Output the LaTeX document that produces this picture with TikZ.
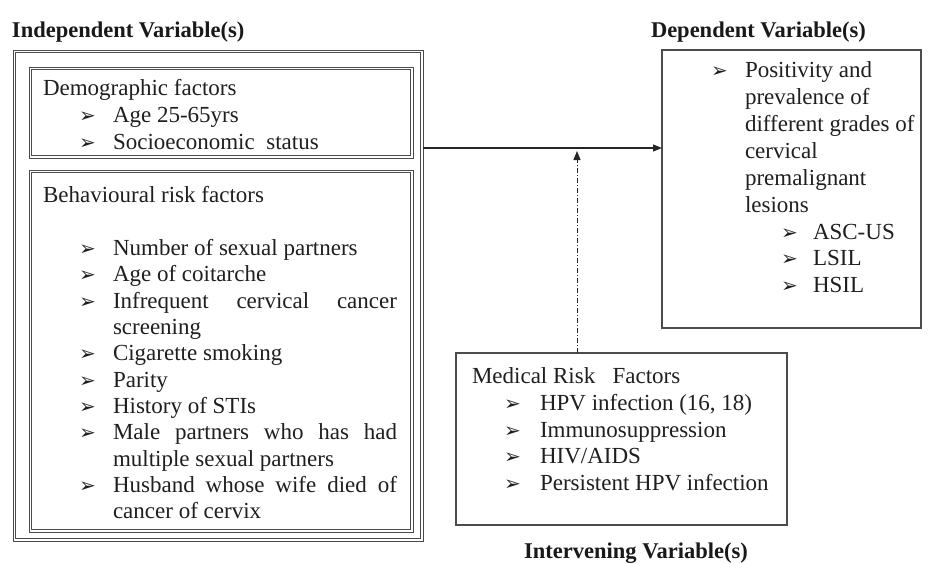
\documentclass[tikz,border=0pt]{standalone}
\usepackage{fontspec}
\setmainfont{Liberation Serif}
\newfontfamily\symf{DejaVu Sans}
\usetikzlibrary{arrows.meta,calc}
\begin{document}
\begin{tikzpicture}[x=1pt,y=-1pt,
 txt/.style={anchor=base west,inner sep=0pt,outer sep=0pt,font=\fontsize{23}{26}\selectfont,text=black!88},
 hdr/.style={anchor=base west,inner sep=0pt,outer sep=0pt,font=\fontsize{22.5}{26}\selectfont\bfseries,text=black!90},
 bul/.style={anchor=base west,inner sep=0pt,outer sep=0pt,font=\symf\bfseries\fontsize{20}{22}\selectfont,text=black!88},
 dbox/.style={draw=black!70,line width=1pt,anchor=north west,inner sep=0pt,outer sep=0pt},
 inline/.style={draw=black!70,line width=1pt},
 sbox/.style={draw=black!70,line width=1.6pt,anchor=north west,inner sep=0pt,outer sep=0pt},
 conn/.style={line width=1.1pt,draw=black!85,-{Triangle[length=9pt,width=7pt]}}]
\useasboundingbox[fill=white] (0,0) rectangle (929,563);

% headers
\node[hdr] (hind) at (12,37) {Independent Variable(s)};
\node[hdr] (hdep) at (651,37) {Dependent Variable(s)};
\node[hdr,anchor=base] (hint) at (636,558) {Intervening Variable(s)};

% boxes (double-lined frames)
\node[dbox,minimum width=410pt,minimum height=491pt] (outer) at (13,50) {};
\draw[inline] ($(outer.north west)+(2.2,2.2)$) rectangle ($(outer.south east)+(-2.2,-2.2)$);
\node[dbox,minimum width=384pt,minimum height=91pt] (demo) at (29,67) {};
\draw[inline] ($(demo.north west)+(2.2,2.2)$) rectangle ($(demo.south east)+(-2.2,-2.2)$);
\node[dbox,minimum width=384pt,minimum height=362pt] (beh) at (29,170) {};
\draw[inline] ($(beh.north west)+(2.2,2.2)$) rectangle ($(beh.south east)+(-2.2,-2.2)$);
\node[sbox,minimum width=259pt,minimum height=278pt] (dep) at (662,50) {};
\node[sbox,minimum width=331pt,minimum height=172pt] (med) at (456,353) {};

% demographic
\node[txt] (d0) at (43,95) {Demographic factors};
\node[bul] (db1) at (79,122) {➢};
\node[txt] (d1) at (113,122) {Age 25-65yrs};
\node[bul] (db2) at (79,149) {➢};
\node[txt] (d2) at (113,149) {Socioeconomic\ \ status};

% behavioural
\node[txt] (b0) at (43,202) {Behavioural risk factors};
\node[bul] (bb1) at (79,255) {➢};
\node[txt] (b1) at (113,255) {Number of sexual partners};
\node[bul] (bb2) at (79,281) {➢};
\node[txt] (b2) at (113,281) {Age of coitarche};
\node[bul] (bb3) at (79,308) {➢};
\node[txt] (b3) at (113,308) {\makebox[284pt][s]{Infrequent cervical cancer}};
\node[txt] (b3b) at (113,334) {screening};
\node[bul] (bb4) at (79,360) {➢};
\node[txt] (b4) at (113,360) {Cigarette smoking};
\node[bul] (bb5) at (79,387) {➢};
\node[txt] (b5) at (113,387) {Parity};
\node[bul] (bb6) at (79,413) {➢};
\node[txt] (b6) at (113,413) {History of STIs};
\node[bul] (bb7) at (79,439) {➢};
\node[txt] (b7) at (113,439) {\makebox[284pt][s]{Male partners who has had}};
\node[txt] (b7b) at (113,466) {multiple sexual partners};
\node[bul] (bb8) at (79,492) {➢};
\node[txt] (b8) at (113,492) {\makebox[284pt][s]{Husband whose wife died of}};
\node[txt] (b8b) at (113,518) {cancer of cervix};

% dependent
\node[bul] (pb0) at (711,77) {➢};
\node[txt] (p1) at (745,77) {Positivity and};
\node[txt] (p2) at (745,104) {prevalence of};
\node[txt] (p3) at (745,131) {different grades of};
\node[txt] (p4) at (745,158) {cervical};
\node[txt] (p5) at (745,185) {premalignant};
\node[txt] (p6) at (745,212) {lesions};
\node[bul] (pb1) at (781,239) {➢};
\node[txt] (p7) at (813,239) {ASC-US};
\node[bul] (pb2) at (781,265) {➢};
\node[txt] (p8) at (813,265) {LSIL};
\node[bul] (pb3) at (781,292) {➢};
\node[txt] (p9) at (813,292) {HSIL};

% medical
\node[txt] (m0) at (472,383) {Medical Risk\ \ \ Factors};
\node[bul] (mb1) at (504,410) {➢};
\node[txt] (m1) at (540,410) {HPV infection (16, 18)};
\node[bul] (mb2) at (504,437) {➢};
\node[txt] (m2) at (540,437) {Immunosuppression};
\node[bul] (mb3) at (504,463) {➢};
\node[txt] (m3) at (540,463) {HIV/AIDS};
\node[bul] (mb4) at (504,490) {➢};
\node[txt] (m4) at (540,490) {Persistent HPV infection};

% connectors
\coordinate (j) at (577,148);
\coordinate (jt) at (577,151);
\draw[conn] (outer.east |- j) -- (dep.west |- j);
\draw[conn,line width=0.9pt,dash pattern=on 5pt off 2pt on 1pt off 2pt] (med.north -| jt) -- (jt);
\end{tikzpicture}
\end{document}
